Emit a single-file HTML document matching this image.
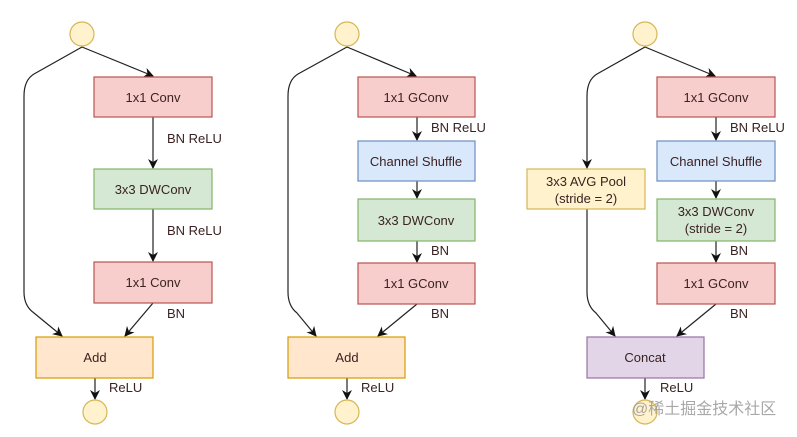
<!DOCTYPE html>
<html><head><meta charset="utf-8"><style>
body{margin:0;background:#fff;width:797px;height:432px;overflow:hidden}
text{font-family:"Liberation Sans",Arial,sans-serif;font-size:13px;fill:#3a2222}
</style></head><body>
<svg width="797" height="432" viewBox="0 0 797 432" xmlns="http://www.w3.org/2000/svg">
<defs><marker id="a" viewBox="0 0 10 10" refX="9" refY="5" markerWidth="10" markerHeight="10" orient="auto" markerUnits="userSpaceOnUse"><path d="M0,0 L10,5 L0,10 L3,5 z" fill="#111"/></marker></defs>
<g fill="none" stroke="#222" stroke-width="1.2" marker-end="url(#a)">
<path d="M82,47 L153,76"/>
<path d="M82,47 L34,74 Q24,80 24,96 L24,292 Q24,306 34,313 L62,336"/>
<path d="M153,117 L153,168"/>
<path d="M153,209 L153,261"/>
<path d="M153,303 L125,336"/>
<path d="M95,378 L95,399"/>
<path d="M347,47 L416,76"/>
<path d="M347,47 L298,74 Q288,80 288,96 L288,292 Q288,306 297,313 L316,336"/>
<path d="M417,117 L417,140"/>
<path d="M417,181 L417,198"/>
<path d="M417,241 L417,262"/>
<path d="M417,304 L378,336"/>
<path d="M347,378 L347,399"/>
<path d="M645,47 L715,76"/>
<path d="M645,47 L597,74 Q587,80 587,96 L587,168"/>
<path d="M587,209 L587,292 Q587,306 596,313 L615,336"/>
<path d="M716,117 L716,140"/>
<path d="M716,181 L716,198"/>
<path d="M716,241 L716,262"/>
<path d="M716,304 L677,336"/>
<path d="M645,378 L645,399"/>
</g>
<g stroke-width="1.2">
<circle cx="82" cy="34" r="12" fill="#fff2cc" stroke="#d6b656"/>
<circle cx="95" cy="412" r="12" fill="#fff2cc" stroke="#d6b656"/>
<circle cx="347" cy="34" r="12" fill="#fff2cc" stroke="#d6b656"/>
<circle cx="347" cy="412" r="12" fill="#fff2cc" stroke="#d6b656"/>
<circle cx="645" cy="34" r="12" fill="#fff2cc" stroke="#d6b656"/>
<circle cx="645" cy="412" r="12" fill="#fff2cc" stroke="#d6b656"/>
<rect x="94" y="77" width="118" height="40" fill="#f8cecc" stroke="#b85450"/>
<rect x="94" y="169" width="118" height="40" fill="#d5e8d4" stroke="#82b366"/>
<rect x="94" y="262" width="118" height="41" fill="#f8cecc" stroke="#b85450"/>
<rect x="36" y="337" width="117" height="41" fill="#ffe6cc" stroke="#d79b00"/>
<rect x="358" y="77" width="117" height="40" fill="#f8cecc" stroke="#b85450"/>
<rect x="358" y="141" width="117" height="40" fill="#dae8fc" stroke="#6c8ebf"/>
<rect x="358" y="199" width="117" height="42" fill="#d5e8d4" stroke="#82b366"/>
<rect x="358" y="263" width="117" height="41" fill="#f8cecc" stroke="#b85450"/>
<rect x="288" y="337" width="117" height="41" fill="#ffe6cc" stroke="#d79b00"/>
<rect x="657" y="77" width="118" height="40" fill="#f8cecc" stroke="#b85450"/>
<rect x="657" y="141" width="118" height="40" fill="#dae8fc" stroke="#6c8ebf"/>
<rect x="657" y="199" width="118" height="42" fill="#d5e8d4" stroke="#82b366"/>
<rect x="657" y="263" width="118" height="41" fill="#f8cecc" stroke="#b85450"/>
<rect x="527" y="169" width="118" height="40" fill="#fff2cc" stroke="#d6b656"/>
<rect x="587" y="337" width="117" height="41" fill="#e1d5e7" stroke="#9673a6"/>
</g>
<g text-anchor="middle">
<text x="153" y="102">1x1 Conv</text>
<text x="153" y="194">3x3 DWConv</text>
<text x="153" y="287">1x1 Conv</text>
<text x="95" y="362">Add</text>
<text x="416" y="102">1x1 GConv</text>
<text x="416" y="166">Channel Shuffle</text>
<text x="416" y="225">3x3 DWConv</text>
<text x="416" y="288">1x1 GConv</text>
<text x="347" y="362">Add</text>
<text x="716" y="102">1x1 GConv</text>
<text x="716" y="166">Channel Shuffle</text>
<text x="716" y="216">3x3 DWConv</text>
<text x="716" y="233">(stride = 2)</text>
<text x="716" y="288">1x1 GConv</text>
<text x="586" y="186">3x3 AVG Pool</text>
<text x="586" y="203">(stride = 2)</text>
<text x="645" y="362">Concat</text>
</g>
<text x="167" y="143">BN ReLU</text>
<text x="167" y="235">BN ReLU</text>
<text x="167" y="318">BN</text>
<text x="109" y="392">ReLU</text>
<text x="431" y="132">BN ReLU</text>
<text x="431" y="255">BN</text>
<text x="431" y="318">BN</text>
<text x="361" y="392">ReLU</text>
<text x="730" y="132">BN ReLU</text>
<text x="730" y="255">BN</text>
<text x="730" y="318">BN</text>
<text x="660" y="392">ReLU</text>
<text x="632" y="414" style="font-family:'Liberation Sans','Noto Sans CJK SC',sans-serif;font-size:16px;fill:#999;opacity:0.85">@稀土掘金技术社区</text>
</svg>
</body></html>
